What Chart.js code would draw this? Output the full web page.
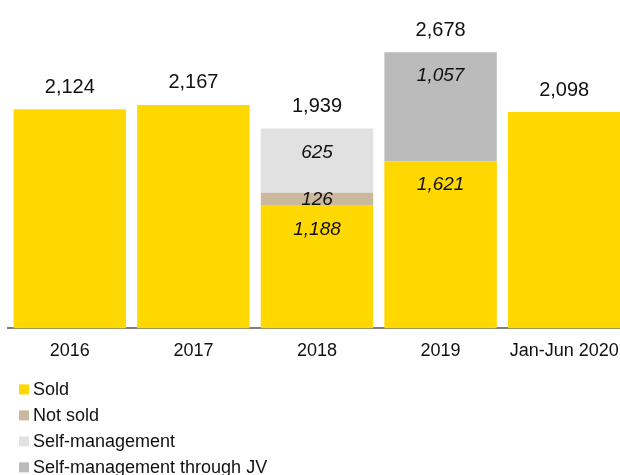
<!DOCTYPE html>
<html>
<head>
<meta charset="utf-8">
<script src="https://cdn.jsdelivr.net/npm/chart.js@4/dist/chart.umd.min.js"></script>
<style>
  html, body { margin: 0; padding: 0; background: #fff; overflow: hidden; }
  #wrap { width: 626px; height: 475px; }
</style>
</head>
<body>
<div id="wrap"><canvas id="units"></canvas></div>
<script>
const years = ["2016", "2017", "2018", "2019", "Jan-Jun 2020"];
const sold = [2124, 2167, 1188, 1621, 2098];
const notSold = [null, null, 126, null, null];
const selfManaged = [null, null, 625, null, null];
const selfManagedJV = [null, null, null, 1057, null];

const seriesNames = ["Sold", "Not sold", "Self-management", "Self-management through JV"];
const seriesColors = ["#FFD800", "#CBB99E", "#E1E1E1", "#BBBBBB"];

const FONT = "'Liberation Sans', Arial, sans-serif";
const fmt = (v) => v.toLocaleString("en-US");

// value labels: italic inside the stacked segments, totals above each column
const barLabels = {
  id: "barLabels",
  afterDatasetsDraw(chart) {
    const ctx = chart.ctx;
    const sets = chart.data.datasets;
    ctx.save();
    ctx.textAlign = "center";
    ctx.textBaseline = "middle";
    ctx.fillStyle = "#111";

    years.forEach((_, i) => {
      let top = null, x = null, total = 0, parts = 0;
      sets.forEach((ds, d) => {
        const v = ds.data[i];
        if (v == null) return;
        const bar = chart.getDatasetMeta(d).data[i];
        total += v;
        parts++;
        x = bar.x;
        top = top == null ? bar.y : Math.min(top, bar.y);
      });
      if (parts > 1) {
        ctx.font = "italic 19px " + FONT;
        sets.forEach((ds, d) => {
          const v = ds.data[i];
          if (v == null) return;
          const bar = chart.getDatasetMeta(d).data[i];
          const mid = (bar.y + bar.base) / 2;
          ctx.fillText(fmt(v), bar.x, Math.min(bar.y + 24, mid));
        });
      }
      ctx.font = "20px " + FONT;
      ctx.fillText(fmt(total), x, top - 22);
    });
    ctx.restore();
  }
};

// one legend entry per line, under the axis
const stackedLegend = {
  id: "stackedLegend",
  afterDraw(chart) {
    const ctx = chart.ctx;
    const y0 = chart.scales.x.top + 61;
    ctx.save();
    ctx.font = "18px " + FONT;
    ctx.textBaseline = "middle";
    ctx.textAlign = "left";
    seriesNames.forEach((name, k) => {
      const y = y0 + k * 26;
      ctx.fillStyle = seriesColors[k];
      ctx.fillRect(19, y - 5, 10, 10);
      ctx.fillStyle = "#111";
      ctx.fillText(name, 33, y + 1);
    });
    ctx.restore();
  }
};

const seriesData = [sold, notSold, selfManaged, selfManagedJV];

new Chart(document.getElementById("units"), {
  type: "bar",
  data: {
    labels: years,
    datasets: seriesNames.map((name, k) => ({
      label: name,
      data: seriesData[k],
      backgroundColor: seriesColors[k],
      borderWidth: 0,
      barPercentage: 0.91,
      categoryPercentage: 1
    }))
  },
  options: {
    responsive: true,
    maintainAspectRatio: false,
    animation: false,
    layout: { padding: { top: 20, left: 8, right: 0, bottom: 109 } },
    scales: {
      x: {
        stacked: true,
        grid: { display: false },
        border: { color: "#7F7F7F", width: 2 },
        ticks: { color: "#111", padding: 4, font: { family: FONT, size: 18 } }
      },
      y: {
        stacked: true,
        display: false,
        min: 0,
        max: 2990
      }
    },
    plugins: {
      legend: { display: false },
      tooltip: { enabled: false }
    }
  },
  plugins: [barLabels, stackedLegend]
});
</script>
</body>
</html>
